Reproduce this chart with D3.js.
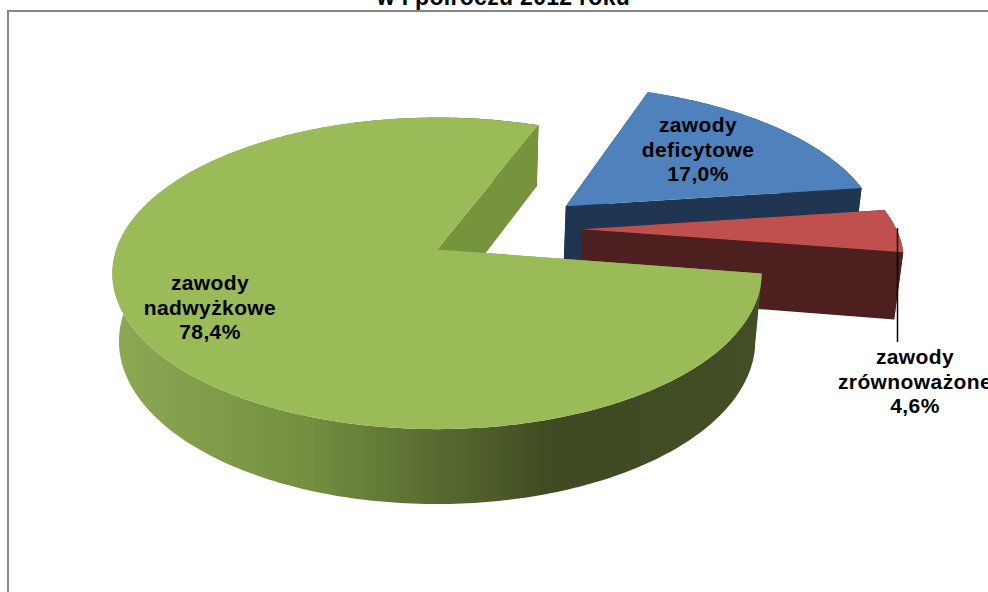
<!DOCTYPE html>
<html><head><meta charset="utf-8">
<script src="https://cdnjs.cloudflare.com/ajax/libs/d3/7.8.5/d3.min.js"></script>
<style>html,body{margin:0;padding:0;background:#fff;overflow:hidden}svg{display:block}</style>
</head><body><svg id="c" width="988" height="592"></svg>
<script>
const chartTitle = "w I półroczu 2012 roku";
const categories = ["zawody deficytowe", "zawody zrównoważone", "zawody nadwyżkowe"];
const values = [17.0, 4.6, 78.4];
const labels = ["17,0%", "4,6%", "78,4%"];
const labelLines = [["zawody","deficytowe"],["zawody","zrównoważone"],["zawody","nadwyżkowe"]];
const topColors = ["#4f81bd", "#c0504d", "#9bbb59"];
const wallColors = ["#1f3552", "#4d1f1e", "#77933c"];
const rimColors = ["#1f3552", "#4d1f1e", "url(#greenRim)"];
const explodeU = [0.41, 0.452, -0.009];
const explodeV = [-0.30, -0.14, -0.004];
const labelX = [698, 915, 210];
const labelY = [125, 357, 283];

const svg = d3.select("#c");
const FONT = "'Liberation Sans', Arial, sans-serif";

// perspective projection of the pie plane
const cx = 440, cy = 250, R = 321, S = 152.3, D = 68.5, k = 0.1538, kz = 0.02;
const project = (u, v, z) => {
  const w = 1 - k * v + kz * z;
  return [cx + R * u / w, cy + (S * v + D * z) / w];
};

const defs = svg.append("defs");
const g = defs.append("linearGradient").attr("id", "greenRim")
  .attr("gradientUnits", "userSpaceOnUse").attr("x1", 112).attr("x2", 762).attr("y1", 0).attr("y2", 0);
[[0, "#8ea853"], [0.3, "#748f40"], [0.68, "#3f4a22"], [1, "#424e25"]].forEach(s =>
  g.append("stop").attr("offset", s[0]).attr("stop-color", s[1]));

// frame
svg.append("rect").attr("x", 8).attr("y", 11).attr("width", 1100).attr("height", 800)
  .attr("fill", "#fff").attr("stroke", "#868686").attr("stroke-width", 2);

svg.append("text").attr("x", 503.5).attr("y", 5).attr("text-anchor", "middle")
  .attr("font-family", FONT).attr("font-weight", "bold").attr("font-size", 23)
  .attr("letter-spacing", 0.3)
  .attr("fill", "#000").text(chartTitle);

const startDeg = 21.1;
const pie = d3.pie().sort(null).startAngle(startDeg * Math.PI / 180)
  .endAngle((startDeg + 360) * Math.PI / 180);
const arcs = pie(values);
const line = d3.line().curve(d3.curveLinear);

const arcPts = (a0, a1, du, dv, z) => {
  const n = Math.max(8, Math.ceil((a1 - a0) * 60));
  return d3.range(n + 1).map(i => {
    const a = a0 + (a1 - a0) * i / n;
    return project(du + Math.sin(a), dv - Math.cos(a), z);
  });
};
const wallPts = (a, du, dv) => [
  project(du, dv, 0),
  project(du + Math.sin(a), dv - Math.cos(a), 0),
  project(du + Math.sin(a), dv - Math.cos(a), 1),
  project(du, dv, 1)
];

arcs.forEach((d, i) => {
  const du = explodeU[i], dv = explodeV[i];
  const s = svg.append("g").attr("class", "slice");
  s.append("path").attr("d", line(wallPts(d.startAngle, du, dv)) + "Z").attr("fill", wallColors[i]);
  const rim = arcPts(d.startAngle, d.endAngle, du, dv, 0)
    .concat(arcPts(d.startAngle, d.endAngle, du, dv, 1).reverse());
  s.append("path").attr("d", line(rim) + "Z").attr("fill", rimColors[i]);
  s.append("path").attr("d", line(wallPts(d.endAngle, du, dv)) + "Z").attr("fill", wallColors[i]);
  const top = [project(du, dv, 0)].concat(arcPts(d.startAngle, d.endAngle, du, dv, 0));
  s.append("path").attr("d", line(top) + "Z").attr("fill", topColors[i]);
});

// leader line of the small slice
svg.append("line").attr("x1", 897.5).attr("x2", 897.5).attr("y1", 228).attr("y2", 342)
  .attr("stroke", "#000").attr("stroke-width", 1.5);

arcs.forEach((d, i) => {
  const t = svg.append("text").attr("text-anchor", "middle")
    .attr("font-family", FONT).attr("font-weight", "bold").attr("font-size", 21)
    .attr("letter-spacing", 0.4).attr("fill", "#000");
  labelLines[i].concat([labels[i]]).forEach((ln, j) => {
    t.append("tspan").attr("x", labelX[i]).attr("y", labelY[i] + j * 24.5 + 7).text(ln);
  });
});
</script></body></html>
